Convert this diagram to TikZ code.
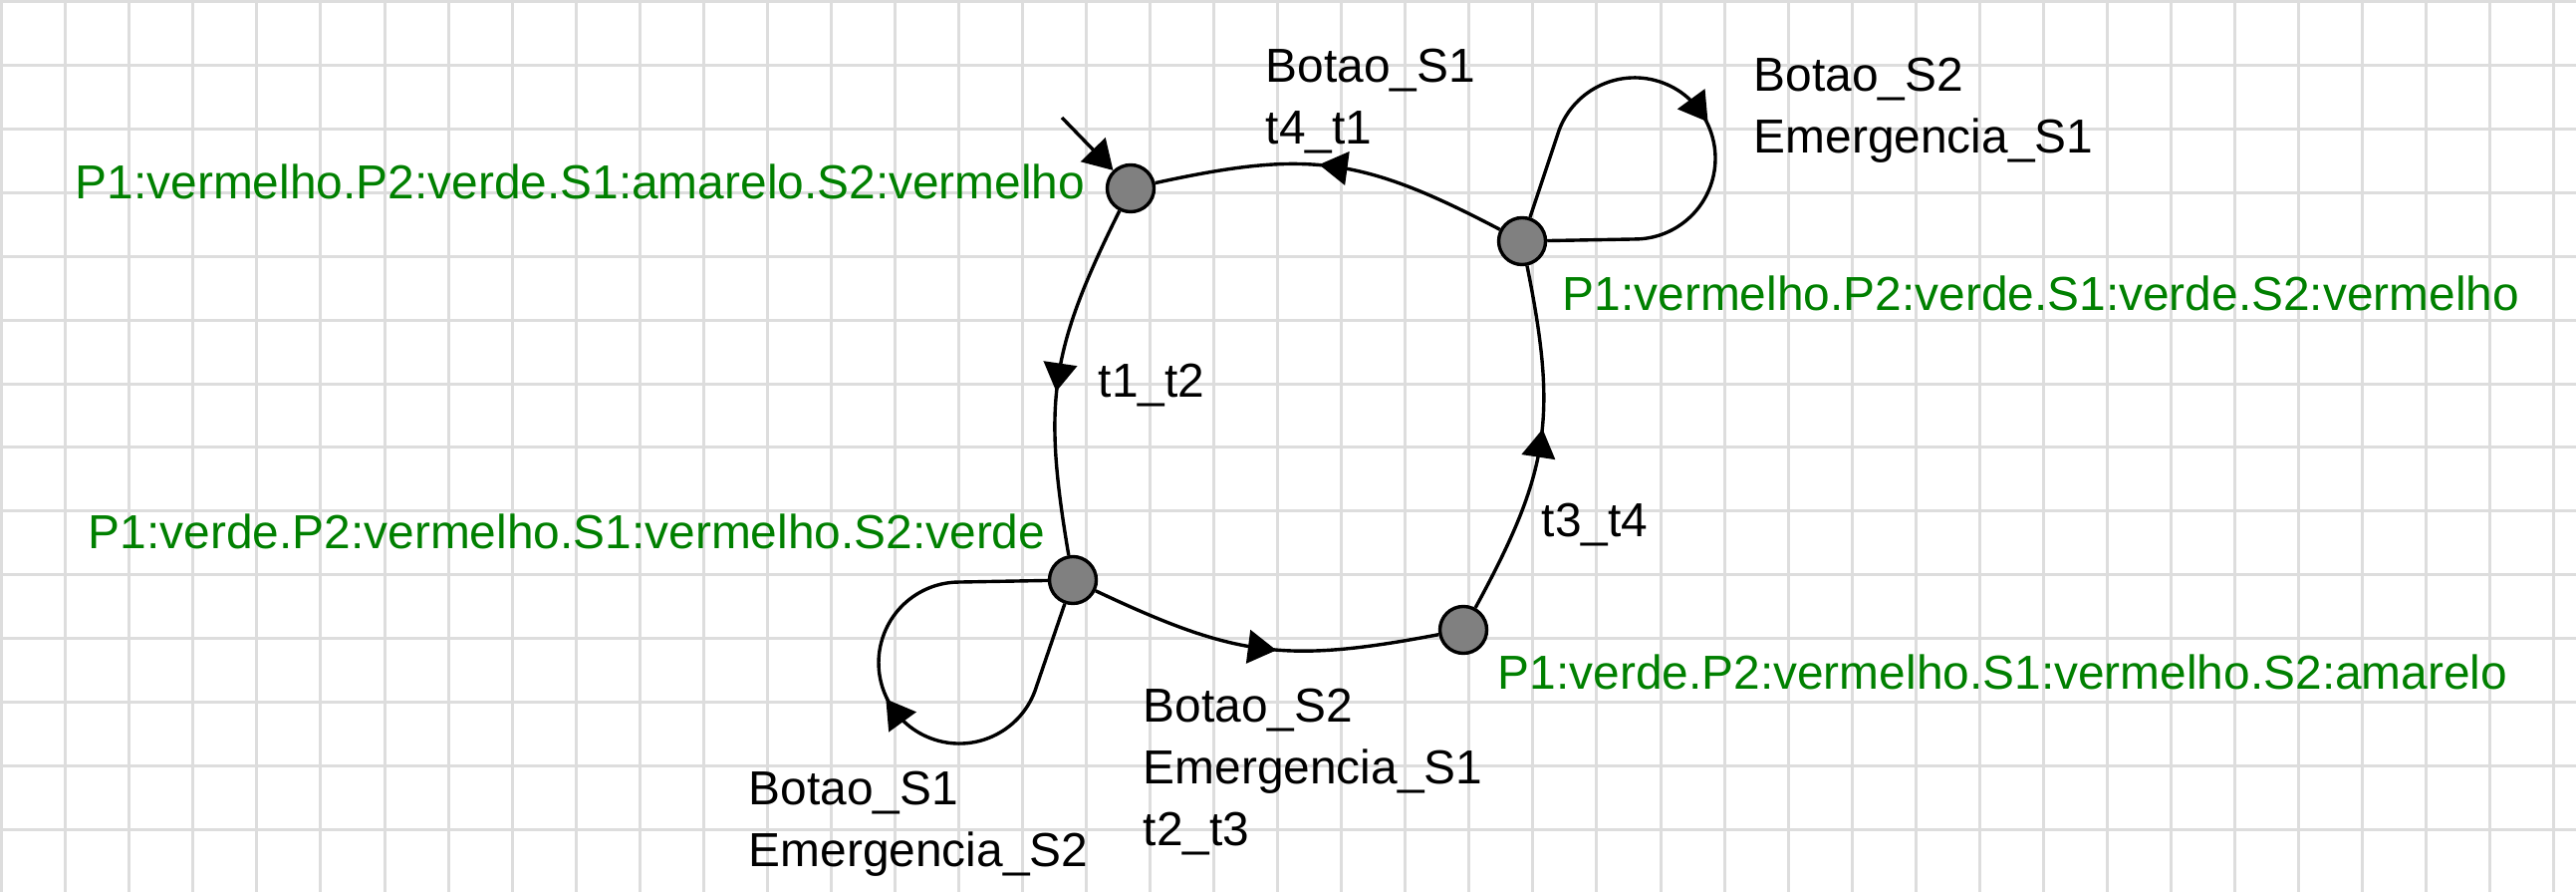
\documentclass[tikz,border=0pt]{standalone}
\usepackage{fontspec}
\setmainfont{Liberation Sans}
\usetikzlibrary{arrows.meta,decorations.markings,calc}
\definecolor{gridgray}{HTML}{DDDDDD}
\definecolor{stategray}{HTML}{808080}
\definecolor{labelgreen}{HTML}{008000}
\tikzset{
  stnode/.style={circle,draw=black,fill=stategray,line width=0.034cm,minimum size=0.47cm,inner sep=0pt},
  conn/.style={draw=black,line width=0.034cm},
  midarrow/.style={postaction={decorate,decoration={markings,mark=at position 0.5 with {\arrow[xshift=1.4mm]{Triangle[length=2.85mm,width=3.35mm]}}}}},
  txt/.style={font=\fontsize{13.61pt}{17.64pt}\selectfont,inner sep=0pt,align=left},
  statelabel/.style={txt,text=labelgreen},
  edgelabel/.style={txt,text=black,anchor=north west},
  gridline/.style={draw=gridgray,line width=0.03cm},
}
\begin{document}
\begin{tikzpicture}[x=0.01cm,y=0.01cm]
\useasboundingbox (0,0) rectangle (2586,-895);
\fill[white] (0,0) rectangle (2586,-895);
% grid
\foreach \i in {0,...,40} \draw[gridline] ({1.7+64.05*\i},0) -- ({1.7+64.05*\i},-895);
\foreach \j in {0,...,13} \draw[gridline] (0,{-1.7-63.9*\j}) -- (2586,{-1.7-63.9*\j});
% states
\node[stnode] (s0) at (1135,-189) {};
\node[stnode] (s1) at (1528,-242) {};
\node[stnode] (s2) at (1077,-582) {};
\node[stnode] (s3) at (1469,-632) {};
\coordinate (init) at (1066,-118);
% transitions
\draw[conn,-{Triangle[length=2.9mm,width=3.4mm]}] (init) -- (s0);
\draw[conn,midarrow] (s0) to[bend right=18,looseness=1.15] (s2);
\draw[conn,midarrow] (s2) to[bend right=18,looseness=1.15] (s3);
\draw[conn,midarrow] (s3) to[bend right=20,looseness=1.15] (s1);
\draw[conn,midarrow] (s1) to[bend right=20,looseness=1.15] (s0);
\draw[conn,midarrow] (s1) -- (1565.1,-130.6) arc[start angle=159.5,end angle=-90,radius=81] -- (s1);
\draw[conn,midarrow] (s2) -- (1038.9,-693.4) arc[start angle=-20.5,end angle=-270,radius=81] -- (s2);
% state labels
\node[statelabel,anchor=base east] (l0) at (1090,-200) {P1:vermelho.P2:verde.S1:amarelo.S2:vermelho};
\node[statelabel,anchor=base west] (l1) at (1568,-312) {P1:vermelho.P2:verde.S1:verde.S2:vermelho};
\node[statelabel,anchor=base east] (l2) at (1050,-551) {P1:verde.P2:vermelho.S1:vermelho.S2:verde};
\node[statelabel,anchor=base west] (l3) at (1503,-692) {P1:verde.P2:vermelho.S1:vermelho.S2:amarelo};
% transition labels
\node[edgelabel] (e10) at (1270,-48) {Botao\_S1\\t4\_t1};
\node[edgelabel] (e11) at (1760,-57) {Botao\_S2\\Emergencia\_S1};
\node[edgelabel] (e02) at (1102,-364) {t1\_t2};
\node[edgelabel] (e31) at (1547,-504) {t3\_t4};
\node[edgelabel] (e23) at (1147,-690) {Botao\_S2\\Emergencia\_S1\\t2\_t3};
\node[edgelabel] (e22) at (751,-773) {Botao\_S1\\Emergencia\_S2};
\end{tikzpicture}
\end{document}
